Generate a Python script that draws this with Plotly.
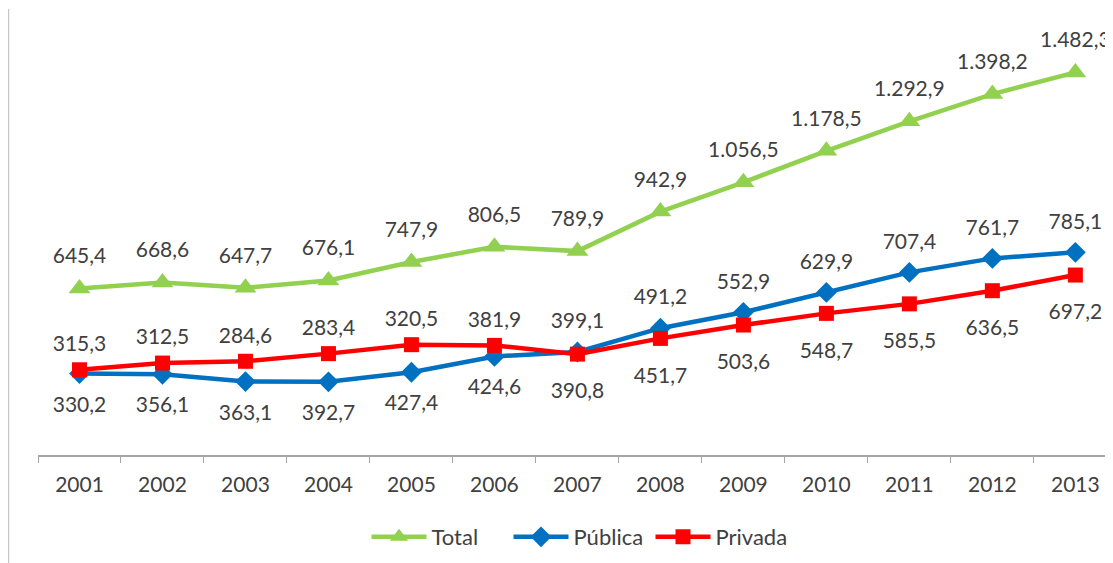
import plotly.graph_objects as go

years = ["2001", "2002", "2003", "2004", "2005", "2006", "2007",
         "2008", "2009", "2010", "2011", "2012", "2013"]
total = [645.4, 668.6, 647.7, 676.1, 747.9, 806.5, 789.9,
         942.9, 1056.5, 1178.5, 1292.9, 1398.2, 1482.3]
publica = [315.3, 312.5, 284.6, 283.4, 320.5, 381.9, 399.1,
           491.2, 552.9, 629.9, 707.4, 761.7, 785.1]
privada = [330.2, 356.1, 363.1, 392.7, 427.4, 424.6, 390.8,
           451.7, 503.6, 548.7, 585.5, 636.5, 697.2]

GREEN = "#92D050"
BLUE = "#0070C0"
RED = "#FF0000"
TXT = "#404040"
FONT = "Lato"


def fmt(v):
    s = f"{v:,.1f}"
    return s.replace(",", "X").replace(".", ",").replace("X", ".")


fig = go.Figure()
fig.add_trace(go.Scatter(x=years, y=total, name="Total", mode="lines+markers",
                         line=dict(color=GREEN, width=4.5), cliponaxis=False,
                         marker=dict(symbol="triangle-up", size=19, color=GREEN)))
fig.add_trace(go.Scatter(x=years, y=publica, name="Pública", mode="lines+markers",
                         line=dict(color=BLUE, width=4.5), cliponaxis=False,
                         marker=dict(symbol="diamond", size=16, color=BLUE)))
fig.add_trace(go.Scatter(x=years, y=privada, name="Privada", mode="lines+markers",
                         line=dict(color=RED, width=4.5), cliponaxis=False,
                         marker=dict(symbol="square", size=15, color=RED)))

# Data labels as in the original: Pública values sit above the upper of the two
# lines, Privada values below the lower one.  Invisible markers set the gap.
upper_y = [max(a, b) for a, b in zip(publica, privada)]
lower_y = [min(a, b) for a, b in zip(publica, privada)]
crossed = [b > a for a, b in zip(publica, privada)]
upper_gap = [20 if c else 28 for c in crossed]
lower_gap = [34 if c else 44 for c in crossed]

for yy, vals, tp, msize in ((total, total, "top center", 30),
                            (upper_y, publica, "top center", upper_gap),
                            (lower_y, privada, "bottom center", lower_gap)):
    fig.add_trace(go.Scatter(x=years, y=yy, mode="markers+text",
                             text=[fmt(v) for v in vals],
                             textposition=tp, showlegend=False, hoverinfo="skip",
                             cliponaxis=False,
                             marker=dict(size=msize, color="rgba(0,0,0,0)", opacity=0,
                                         line=dict(width=0, color="rgba(0,0,0,0)")),
                             textfont=dict(family=FONT, size=21, color=TXT)))

fig.update_layout(
    width=1113, height=563,
    margin=dict(l=30, r=0, t=34, b=116, autoexpand=False),
    paper_bgcolor="white", plot_bgcolor="white",
    showlegend=True,
    legend=dict(orientation="h", x=0.50, xanchor="center", y=-0.1985, yanchor="middle",
                font=dict(family=FONT, size=22, color=TXT), itemwidth=55,
                entrywidth=72, entrywidthmode="pixels",
                traceorder="normal"),
    xaxis=dict(type="category", range=[-0.5, 12.55], showgrid=False,
               showline=True, linecolor="#A6A6A6", linewidth=1.5,
               ticks="outside", tickson="boundaries", ticklen=6, tickcolor="#A6A6A6",
               ticklabelstandoff=10,
               tickfont=dict(family=FONT, size=21, color=TXT), fixedrange=True),
    yaxis=dict(range=[0, 1600], visible=False, showgrid=False, zeroline=False,
               fixedrange=True),
    shapes=[dict(type="line", xref="paper", yref="paper", x0=-0.0277, x1=-0.0277,
                 y0=-0.3, y1=1.08, line=dict(color="#C8C8C8", width=2.5))],
)

fig.write_html("out.html")
